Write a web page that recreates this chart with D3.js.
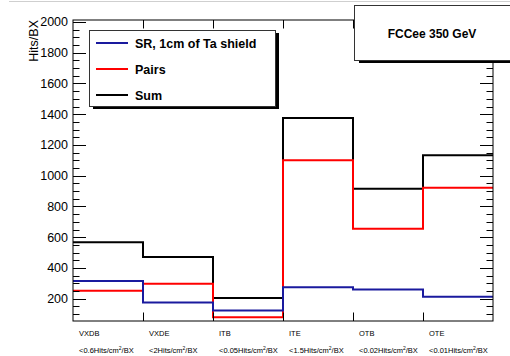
<!DOCTYPE html>
<html>
<head>
<meta charset="utf-8">
<script src="https://cdn.jsdelivr.net/npm/d3@7"></script>
<style>
  html, body { margin: 0; padding: 0; background: #fff; }
  svg { display: block; font-family: "Liberation Sans", Arial, Helvetica, sans-serif; }
</style>
</head>
<body>
<svg id="chart" width="510" height="356"></svg>
<script>
// Detector regions (bins) and their occupancy limits
const categories = ["VXDB", "VXDE", "ITB", "ITE", "OTB", "OTE"];
const limits = ["<0.6Hits/cm", "<2Hits/cm", "<0.05Hits/cm", "<1.5Hits/cm", "<0.02Hits/cm", "<0.01Hits/cm"];

// Hits per bunch crossing in each region
const srValues    = [315, 175, 124, 275, 260, 213];
const pairsValues = [252, 297, 80, 1100, 655, 921];
const sumValues   = [567, 472, 204, 1375, 915, 1134];

const yTicks = [200, 400, 600, 800, 1000, 1200, 1400, 1600, 1800, 2000];

const series = [
  { name: "Sum", values: sumValues, color: "#000000" },
  { name: "Pairs", values: pairsValues, color: "#ff0000" },
  { name: "SR, 1cm of Ta shield", values: srValues, color: "#1a1a9e" }
];
const legendOrder = [series[2], series[1], series[0]];

const svg = d3.select("#chart");
const frame = { left: 73, right: 493, top: 20, bottom: 321 };

const x = d3.scaleLinear().domain([0, categories.length]).range([frame.left, frame.right]);
const y = d3.scaleLinear().domain([55, 2013]).range([frame.bottom, frame.top]);

// canvas top rule
svg.append("line").attr("x1", 9).attr("x2", 510).attr("y1", 1.5).attr("y2", 1.5)
  .attr("stroke", "#cfcfcf").attr("stroke-width", 1);

// histograms (step outlines)
const line = d3.line().x(d => x(d[0])).y(d => y(d[1])).curve(d3.curveStepAfter);
series.forEach(s => {
  const pts = s.values.map((v, i) => [i, v]);
  pts.push([categories.length, s.values[s.values.length - 1]]);
  svg.append("path").attr("d", line(pts)).attr("fill", "none")
    .attr("stroke", s.color).attr("stroke-width", 2);
});

// frame
svg.append("rect").attr("x", frame.left).attr("y", frame.top)
  .attr("width", frame.right - frame.left).attr("height", frame.bottom - frame.top)
  .attr("fill", "none").attr("stroke", "#000").attr("stroke-width", 1);

// y axis (left) labels
const yAxis = d3.axisLeft(y).tickValues(yTicks).tickFormat(d3.format("d")).tickSize(0).tickPadding(5);
const gy = svg.append("g").attr("transform", `translate(${frame.left},0)`).call(yAxis);
gy.select(".domain").remove();
gy.selectAll("text").attr("font-size", 12.5).attr("fill", "#000");

// major and minor ticks on both vertical sides
const minorVals = d3.range(100, 2013, 50);
minorVals.forEach(v => {
  const major = v % 200 === 0;
  const len = major ? 13 : 6.5;
  const yy = Math.round(y(v)) + 0.5;
  svg.append("line").attr("x1", frame.left).attr("x2", frame.left + len)
    .attr("y1", yy).attr("y2", yy).attr("stroke", "#000").attr("stroke-width", 1);
  svg.append("line").attr("x1", frame.right).attr("x2", frame.right - len)
    .attr("y1", yy).attr("y2", yy).attr("stroke", "#000").attr("stroke-width", 1);
});

// x bin-edge ticks (bottom and top)
d3.range(1, categories.length).forEach(i => {
  const xx = Math.round(x(i)) + 0.5;
  svg.append("line").attr("x1", xx).attr("x2", xx).attr("y1", frame.bottom).attr("y2", frame.bottom - 8.5)
    .attr("stroke", "#000");
  svg.append("line").attr("x1", xx).attr("x2", xx).attr("y1", frame.top).attr("y2", frame.top + 8.5)
    .attr("stroke", "#000");
});

// x category labels
categories.forEach((c, i) => {
  const lx = x(i) + 6;
  svg.append("text").attr("x", lx).attr("y", 335.5).attr("font-size", 7.5).text(c);
  const t = svg.append("text").attr("x", lx).attr("y", 353).attr("font-size", 7.5);
  t.append("tspan").text(limits[i]);
  t.append("tspan").attr("font-size", 5).attr("dy", -3).text("2");
  t.append("tspan").attr("dy", 3).text("/BX");
});

// y axis title
svg.append("text").attr("transform", "translate(38,20) rotate(-90)")
  .attr("text-anchor", "end").attr("font-size", 12.5).text("Hits/BX");

// legend
const lg = { x: 89, y: 30, w: 186, h: 76 };
svg.append("rect").attr("x", lg.x + 4).attr("y", lg.y + 3).attr("width", lg.w).attr("height", lg.h).attr("fill", "#000");
svg.append("rect").attr("x", lg.x + 0.5).attr("y", lg.y + 0.5).attr("width", lg.w).attr("height", lg.h)
  .attr("fill", "#fff").attr("stroke", "#333").attr("stroke-width", 1);
const rowY = [43, 69, 95];
legendOrder.forEach((s, i) => {
  svg.append("line").attr("x1", 96).attr("x2", 128).attr("y1", rowY[i]).attr("y2", rowY[i])
    .attr("stroke", s.color).attr("stroke-width", 2);
  svg.append("text").attr("x", 135).attr("y", rowY[i] + 4.5).attr("font-size", 12.5)
    .attr("font-weight", "bold").text(s.name);
});

// energy label box
svg.append("rect").attr("x", 359).attr("y", 8).attr("width", 160).attr("height", 55).attr("fill", "#000");
svg.append("rect").attr("x", 354.5).attr("y", 5.5).attr("width", 160).attr("height", 55)
  .attr("fill", "#fff").attr("stroke", "#333").attr("stroke-width", 1);
svg.append("text").attr("x", 432).attr("y", 38).attr("text-anchor", "middle")
  .attr("font-size", 12).attr("font-weight", "bold").text("FCCee 350 GeV");
</script>
</body>
</html>
